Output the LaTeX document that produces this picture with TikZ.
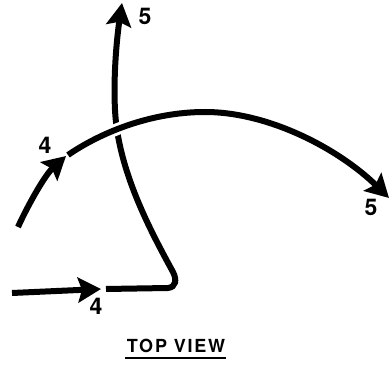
\documentclass[tikz,border=0pt]{standalone}
\usepackage{fontspec}
\setmainfont{TeX Gyre Heros}
\usetikzlibrary{arrows.meta}
\tikzset{
  flow/.style={line width=6pt, line cap=butt, -{Stealth[length=23pt,width=25pt,inset=4pt]}},
  num/.style={font=\fontsize{23}{23}\selectfont\bfseries, inner sep=0pt},
  caption/.style={font=\fontsize{18}{18}\selectfont\bfseries\addfontfeatures{LetterSpace=10}, inner sep=0pt}
}
\begin{document}
\begin{tikzpicture}[x=1pt,y=-1pt]
\useasboundingbox (0,0) rectangle (389,366);
% coordinates
\coordinate (inS) at (12,293);
\coordinate (inE) at (101,289);
\coordinate (pS) at (106,289);
\coordinate (pC) at (168,288);
\coordinate (pU) at (173,272);
\coordinate (pM) at (115,110);
\coordinate (pT) at (122,3);
\coordinate (aS) at (18,227);
\coordinate (aE) at (66,156);
\coordinate (bS) at (68,155);
\coordinate (bM) at (205,112);
\coordinate (bE) at (389,198);
\coordinate (uS) at (125,358);
\coordinate (uE) at (226,358);
% incoming straight arrow
\draw[flow] (inS) -- (inE);
% path to top
\draw[flow] (pS) -- (pC) .. controls (176,287) and (177,280) .. (pU)
  .. controls (150,230) and (118,170) .. (pM)
  .. controls (113,70) and (118,30) .. (pT);
% lower arc
\draw[flow] (aS) .. controls (28,205) and (45,175) .. (aE);
% big arc with halo
\draw[line width=12pt, white] (bS) .. controls (100,133) and (150,112) .. (bM);
\draw[flow] (bS) .. controls (100,133) and (150,112) .. (bM)
  .. controls (270,112) and (340,150) .. (bE);
% labels
\node[num] (l4a) at (96,306) {4};
\node[num] (l4b) at (45,145) {4};
\node[num] (l5a) at (145,16) {5};
\node[num] (l5b) at (371,207) {5};
\node[caption] (cap) at (176,346) {TOP VIEW};
\draw[line width=2pt] (uS) -- (uE);
\end{tikzpicture}
\end{document}
